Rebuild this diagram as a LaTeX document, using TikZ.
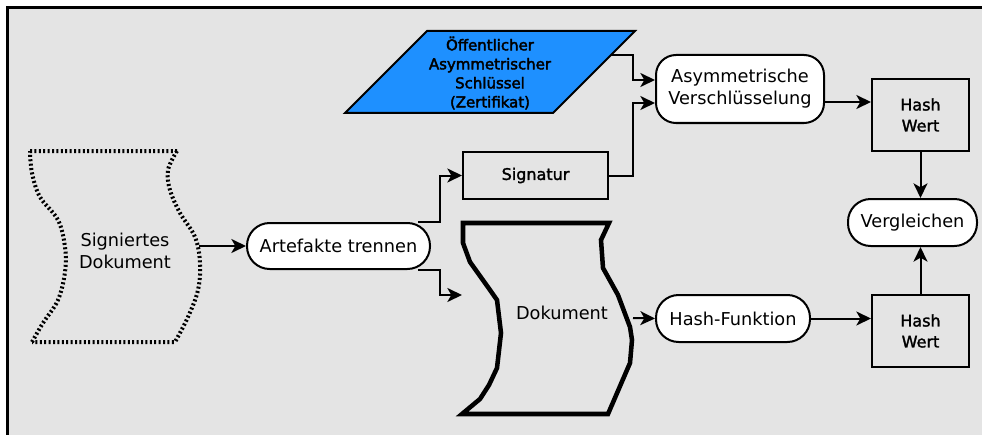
\documentclass[tikz,border=0pt]{standalone}
\usepackage{fontspec}
\setmainfont{DejaVu Sans}
\newfontfamily\heavyish[FakeBold=1.8]{DejaVu Sans}
\newfontfamily\keyface[FakeBold=2.6]{DejaVu Sans}
\usetikzlibrary{arrows.meta,calc}
\definecolor{panelgray}{RGB}{228,228,228}
\definecolor{keyblue}{RGB}{30,144,255}
\begin{document}
\begin{tikzpicture}[x=0.75pt,y=-0.75pt,
  conn/.style={line width=1.5pt,-{Stealth[length=11pt,width=10.5pt,inset=3pt]}},
  bigtext/.style={font=\fontsize{13.3}{16.5}\selectfont,align=center},
  smalltext/.style={font=\heavyish\fontsize{12}{15.75}\selectfont,align=center},
  pill/.style={draw,line width=1.5pt,fill=white,rounded corners=17pt,inner sep=0pt,bigtext},
  rbox/.style={draw,line width=1.5pt,inner sep=0pt,smalltext},
  doclabel/.style={inner sep=0pt,bigtext},
  keytext/.style={inner sep=0pt,align=center,font=\keyface\fontsize{11.2}{14.25}\selectfont}]

% canvas with its frame on the top and left
\useasboundingbox (0,0) rectangle (982,435);
\fill[white] (0,0) rectangle (982,435);
\fill[panelgray] (7,7) rectangle (982,435);
\draw[line width=2pt] (7.3,435) -- (7.3,7.3) -- (982,7.3);

% signed document (dotted wavy sheet)
\draw[line width=3pt,dash pattern=on 1.5pt off 1.8pt]
  (30,151) -- (177,151)
  plot[smooth,tension=0.6] coordinates {(177,151) (168,170) (170,190) (180,213) (195,237) (200,263) (198,290) (188,317) (175,342)}
  -- (32,342)
  plot[smooth,tension=0.6] coordinates {(32,342) (43,323) (58,300) (65,272) (65,247) (58,220) (40,197) (32,173) (30,151)};
\node[doclabel] (sdoc) at (125,251) {Signiertes\\Dokument};
\coordinate (sdocout) at (199,246);

% extracted document (thick wavy sheet)
\draw[line width=3.4pt,line join=miter]
  (463,223) -- (609,223) -- (601,240) -- (603,268) -- (618,295) -- (630,327)
  -- (632,340) -- (630,363) -- (608,414) -- (462,414) -- (480,399) -- (489,385)
  -- (497,368) -- (501,333) -- (497,300) -- (490,290) -- (470,262) -- (463,243) -- cycle;
\node[doclabel] (doc) at (562,313) {Dokument};
\coordinate (docin) at (462,295);
\coordinate (docout) at (633,318);

% public key (parallelogram)
\draw[line width=1.5pt,fill=keyblue,line join=miter]
  (427,31) -- (635,31) -- (553,113) -- (345,113) -- cycle;
\node[keytext] (key) at (490,73) {Öffentlicher\\Asymmetrischer\\Schlüssel\\(Zertifikat)};
\coordinate (keyout) at (611,55);

% process steps
\node[pill,minimum width=137.25pt,minimum height=34.5pt] (art) at (338.5,246) {Artefakte trennen};
\node[rbox,minimum width=108.75pt,minimum height=35.25pt] (sig) at (535.5,175.5) {Signatur};
\node[pill,minimum width=126pt,minimum height=51pt,rounded corners=15pt] (asym) at (740,89) {Asymmetrische\\Verschlüsselung};
\node[rbox,minimum width=72.75pt,minimum height=54pt] (hashA) at (920.5,115) {Hash\\Wert};
\node[pill,minimum width=96.75pt,minimum height=35.25pt] (vgl) at (912.5,222.5) {Vergleichen};
\node[rbox,minimum width=72.75pt,minimum height=54pt] (hashB) at (920.5,331) {Hash\\Wert};
\node[pill,minimum width=115.5pt,minimum height=35.25pt] (hf) at (733,318.5) {Hash-Funktion};

% connectors
\coordinate (artUp) at ($(art.north east)+(-13,0)$);
\coordinate (artDown) at ($(art.south east)+(-13,0)$);
\coordinate (asymInA) at ($(asym.west)+(0,-9)$);
\coordinate (asymInB) at ($(asym.west)+(0,14)$);
\coordinate (asymOut) at ($(asym.east)+(0,13)$);

\draw[conn] (sdocout) -- (art.west);
\draw[conn] (artUp) -- ++(22,0) |- (sig.west);
\draw[conn] (artDown) -- ++(22,0) |- (docin);
\draw[conn] (keyout) -- ++(22,0) |- (asymInA);
\draw[conn] (sig.east) -- ++(24,0) |- (asymInB);
\draw[conn] (asymOut) -- (asymOut -| hashA.west);
\draw[conn] (hashA.south) -- (hashA.south |- vgl.north);
\draw[conn] (hashB.north) -- (hashB.north |- vgl.south);
\draw[conn] (docout) -- (hf.west);
\draw[conn] (hf.east) -- (hf.east -| hashB.west);
\end{tikzpicture}
\end{document}
